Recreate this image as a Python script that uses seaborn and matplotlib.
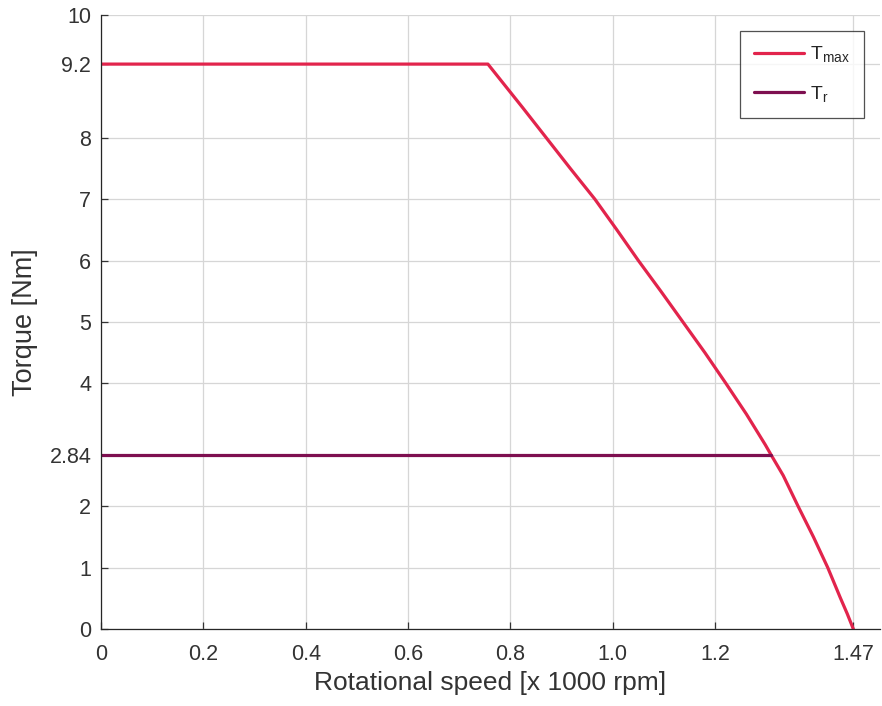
import numpy as np
import pandas as pd
import matplotlib
matplotlib.use("Agg")
import matplotlib.pyplot as plt
import seaborn as sns

# Torque envelope (speed in x1000 rpm, torque in Nm)
speed_max = [0.0, 0.756, 0.823, 0.870, 0.917, 0.965, 1.008, 1.05, 1.094, 1.137,
             1.18, 1.221, 1.261, 1.298, 1.309, 1.333, 1.362, 1.392, 1.42,
             1.445, 1.458, 1.47]
torque_max = [9.2, 9.2, 8.5, 8.0, 7.5, 7.0, 6.5, 6.0, 5.5, 5.0,
              4.5, 4.0, 3.5, 3.0, 2.84, 2.5, 2.0, 1.5, 1.0,
              0.5, 0.25, 0.0]

# Rated torque line
speed_r = [0.0, 1.309]
torque_r = [2.84, 2.84]

x_ticks = [0, 0.2, 0.4, 0.6, 0.8, 1.0, 1.2, 1.47]
x_labels = ["0", "0.2", "0.4", "0.6", "0.8", "1.0", "1.2", "1.47"]
y_ticks = [0, 1, 2, 2.84, 4, 5, 6, 7, 8, 9.2, 10]
y_labels = ["0", "1", "2", "2.84", "4", "5", "6", "7", "8", "9.2", "10"]

sns.set_style("white")
plt.rcParams["font.family"] = ["Liberation Sans", "DejaVu Sans"]
plt.rcParams["mathtext.fontset"] = "custom"
plt.rcParams["mathtext.rm"] = "Liberation Sans"

df_max = pd.DataFrame({"speed": speed_max, "torque": torque_max})
df_r = pd.DataFrame({"speed": speed_r, "torque": torque_r})

fig = plt.figure(figsize=(8.82, 7.06), dpi=100)
ax = fig.add_axes([0.1145, 0.109, 0.8832, 0.8698])

sns.lineplot(data=df_max, x="speed", y="torque", ax=ax, color="#e2244c",
             linewidth=2.3, label=r"T$_\mathrm{max}$", sort=False, estimator=None)
sns.lineplot(data=df_r, x="speed", y="torque", ax=ax, color="#7e0f50",
             linewidth=2.3, label=r"T$_\mathrm{r}$", sort=False, estimator=None)

ax.set_xlim(0, 1.522)
ax.set_ylim(0, 10)
ax.set_xticks(x_ticks)
ax.set_xticklabels(x_labels)
ax.set_yticks(y_ticks)
ax.set_yticklabels(y_labels)

ax.grid(True, color="#d6d6d6", linewidth=0.9)
ax.set_axisbelow(True)
for s in ["top", "right"]:
    ax.spines[s].set_visible(False)
for s in ["left", "bottom"]:
    ax.spines[s].set_color("#262626")
    ax.spines[s].set_linewidth(0.9)
ax.tick_params(direction="in", length=5, width=0.9, colors="#333333",
               labelsize=15.5, left=True, bottom=True)
ax.tick_params(axis="x", pad=11)
ax.tick_params(axis="y", pad=7)

ax.set_xlabel("Rotational speed [x 1000 rpm]", fontsize=19, color="#333333", labelpad=4)
ax.set_ylabel("Torque [Nm]", fontsize=19.5, color="#333333", labelpad=8)

leg = ax.legend(loc="upper right", bbox_to_anchor=(0.979, 0.974), fontsize=14,
                frameon=True, fancybox=False, handlelength=2.6, handletextpad=0.3,
                borderpad=0.7, labelspacing=1.0, borderaxespad=0)
leg.get_frame().set_edgecolor("#262626")
leg.get_frame().set_linewidth(0.9)

fig.savefig("out.png", dpi=100)
